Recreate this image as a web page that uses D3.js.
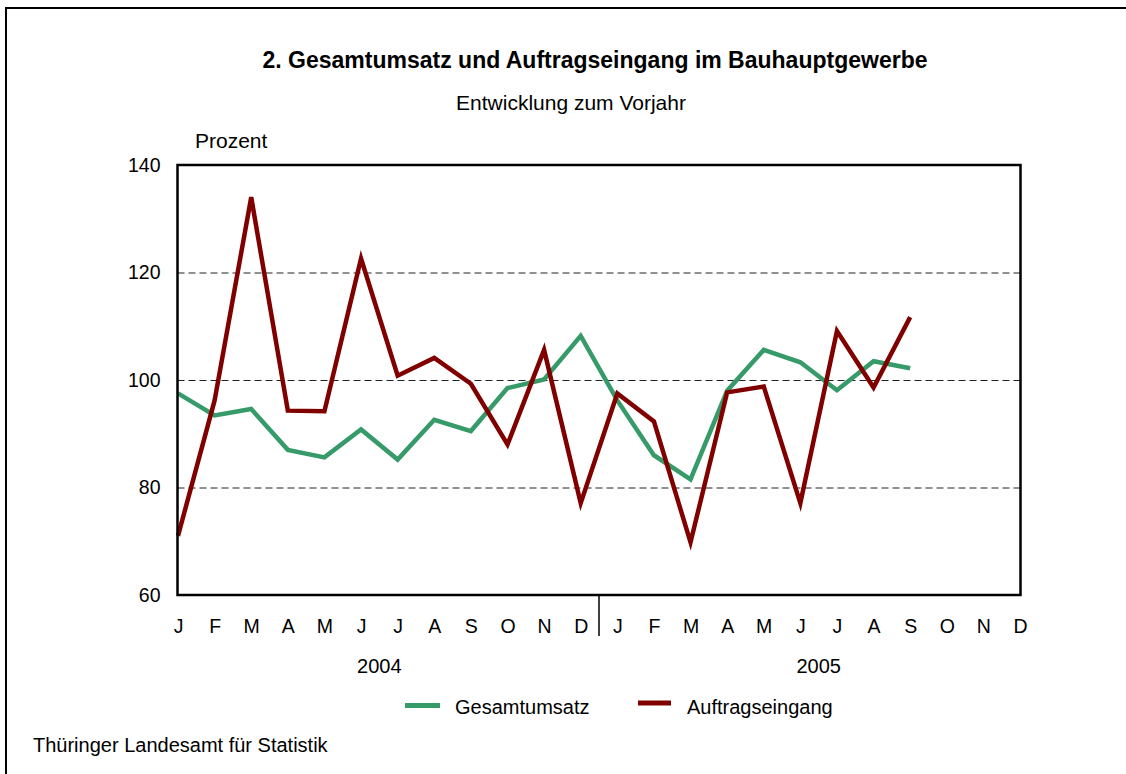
<!DOCTYPE html>
<html><head><meta charset="utf-8">
<script src="https://cdn.jsdelivr.net/npm/d3@7"></script>
<style>body{margin:0;background:#fff}svg{display:block;font-family:"Liberation Sans",Arial,sans-serif}</style>
</head><body>
<script>
const months = ["J","F","M","A","M","J","J","A","S","O","N","D","J","F","M","A","M","J","J","A","S","O","N","D"];
const years = ["2004","2005"];
const gesamtumsatz = [97.5,93.4,94.6,87.0,85.6,90.8,85.2,92.6,90.5,98.5,100.1,108.2,96.2,86.0,81.5,98.0,105.6,103.3,98.1,103.5,102.2];
const auftragseingang = [71.0,96.2,134.0,94.3,94.2,122.6,100.8,104.1,99.3,88.0,105.6,77.1,97.5,92.3,69.8,97.7,98.8,77.1,109.1,98.6,111.7];
const yTicks = [60,80,100,120,140];
const seriesNames = ["Gesamtumsatz","Auftragseingang"];
const colors = ["#379a69","#800000"];

const W=1126,H=774;
const svg=d3.select("body").append("svg").attr("width",W).attr("height",H);
const pLeft=177.5,pRight=1020.5,pTop=165,pBottom=595;
const x=d3.scalePoint().domain(d3.range(24)).range([pLeft+0.5,pRight-0.5]);
const y=d3.scaleLinear().domain([60,140]).range([pBottom,pTop]);

// outer frame
svg.append("path").attr("d",`M6,${H+5}V8H${W+5}`).attr("fill","none").attr("stroke","#000").attr("stroke-width",2);

svg.append("text").attr("x",595).attr("y",68).attr("text-anchor","middle").attr("font-size",23).attr("font-weight","bold").text("2. Gesamtumsatz und Auftragseingang im Bauhauptgewerbe");
svg.append("text").attr("x",571).attr("y",110).attr("text-anchor","middle").attr("font-size",21).text("Entwicklung zum Vorjahr");
svg.append("text").attr("x",195).attr("y",148).attr("font-size",21).text("Prozent");

// gridlines
svg.append("g").selectAll("line").data(yTicks.filter(t=>t>60&&t<140)).join("line")
  .attr("x1",pLeft).attr("x2",pRight).attr("y1",d=>y(d)+0.5).attr("y2",d=>y(d)+0.5)
  .attr("stroke","#222").attr("stroke-width",1).attr("stroke-dasharray","7,4");

// y axis labels
const yAxis=d3.axisLeft(y).tickValues(yTicks).tickSize(0).tickPadding(17);
const gy=svg.append("g").attr("transform",`translate(${pLeft},0)`).call(yAxis);
gy.select(".domain").remove();
gy.selectAll("text").attr("font-size",19.5).attr("font-family","Liberation Sans, Arial, sans-serif").attr("fill","#000");

// x axis labels
const xAxis=d3.axisBottom(x).tickFormat(i=>months[i]).tickSize(0).tickPadding(24);
const gx=svg.append("g").attr("transform",`translate(0,${pBottom})`).call(xAxis);
gx.select(".domain").remove();
gx.selectAll("text").attr("font-size",19.5).attr("font-family","Liberation Sans, Arial, sans-serif").attr("fill","#000");

// year divider
const xd=(x(11)+x(12))/2;
svg.append("line").attr("x1",xd).attr("x2",xd).attr("y1",pBottom).attr("y2",636).attr("stroke","#000").attr("stroke-width",1.5);

// year labels
years.forEach((yr,k)=>{
  svg.append("text").attr("x",(x(k*12)+x(k*12+11))/2).attr("y",673).attr("text-anchor","middle").attr("font-size",20).text(yr);
});

// lines
const line=d3.line().x((d,i)=>x(i)).y(d=>y(d));
[gesamtumsatz,auftragseingang].forEach((s,k)=>{
  svg.append("path").attr("d",line(s)).attr("fill","none").attr("stroke",colors[k]).attr("stroke-width",4.5).attr("stroke-linejoin","miter").attr("stroke-linecap","butt");
});

// plot frame
svg.append("rect").attr("x",pLeft).attr("y",pTop).attr("width",pRight-pLeft).attr("height",pBottom-pTop).attr("fill","none").attr("stroke","#000").attr("stroke-width",2.5);

// legend
const lg=[{x:405,ty:714},{x:638,ty:714}];
seriesNames.forEach((n,k)=>{
  svg.append("rect").attr("x",lg[k].x).attr("y",k==0?703:700.5).attr("width",k==0?35:33).attr("height",5).attr("fill",colors[k]);
  svg.append("text").attr("x",lg[k].x+(k==0?50:49)).attr("y",lg[k].ty).attr("font-size",20).text(n);
});

svg.append("text").attr("x",33).attr("y",752).attr("font-size",20).text("Thüringer Landesamt für Statistik");
</script>
</body></html>
